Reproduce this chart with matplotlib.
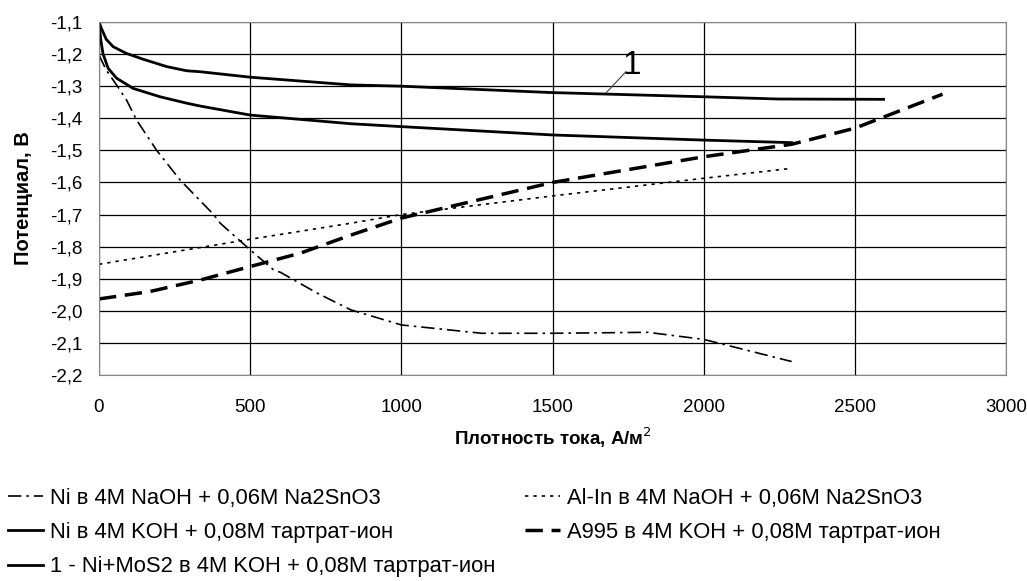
import numpy as np
import matplotlib
matplotlib.use("Agg")
import matplotlib.pyplot as plt

plt.rcParams['font.family'] = ['Liberation Sans', 'DejaVu Sans']

# --- data ---
# 1 - Ni+MoS2 in 4M KOH + 0.08M tartrate (upper solid)
x_mos2 = [0, 8, 24, 47, 91, 146, 224, 290, 335, 500, 833, 1000, 1500, 2000, 2248, 2595]
y_mos2 = [-1.10, -1.12, -1.154, -1.177, -1.198, -1.216, -1.239, -1.252, -1.255, -1.272,
          -1.296, -1.30, -1.32, -1.333, -1.34, -1.341]

# Ni in 4M KOH + 0.08M tartrate (lower solid)
x_ni_koh = [0, 6, 13, 30, 58, 113, 202, 290, 335, 500, 833, 1000, 1500, 2000, 2291]
y_ni_koh = [-1.10, -1.156, -1.198, -1.244, -1.275, -1.307, -1.333, -1.353, -1.362, -1.39,
            -1.417, -1.426, -1.452, -1.468, -1.476]

# A995 in 4M KOH + 0.08M tartrate (heavy dashed)
x_a995 = [0, 168, 335, 500, 667, 833, 1000, 1500, 2000, 2291, 2500, 2790]
y_a995 = [-1.963, -1.94, -1.904, -1.862, -1.82, -1.764, -1.711, -1.60, -1.52, -1.481, -1.431, -1.325]

# Al-In in 4M NaOH + 0.06M Na2SnO3 (dotted)
x_alin = [0, 500, 833, 1000, 1500, 2000, 2291]
y_alin = [-1.855, -1.777, -1.727, -1.70, -1.642, -1.587, -1.556]

# Ni in 4M NaOH + 0.06M Na2SnO3 (dash-dot)
x_ni_naoh = [0, 24, 58, 91, 124, 190, 268, 379, 401, 500, 578, 600, 722, 833, 1000, 1266,
             1500, 1815, 2000, 2291]
y_ni_naoh = [-1.203, -1.25, -1.296, -1.343, -1.405, -1.499, -1.592, -1.70, -1.727, -1.81,
             -1.873, -1.88, -1.945, -1.997, -2.044, -2.07, -2.07, -2.067, -2.089, -2.158]

labels = [
    'Ni в 4M NaOH + 0,06M Na2SnO3',
    'Al-In в 4M NaOH + 0,06M Na2SnO3',
    'Ni в 4M KOH + 0,08M тартрат-ион',
    'A995 в 4M KOH + 0,08M тартрат-ион',
    '1 - Ni+MoS2 в 4M KOH + 0,08M тартрат-ион',
]

x_ticks = [0, 500, 1000, 1500, 2000, 2500, 3000]
y_ticks = [-1.1, -1.2, -1.3, -1.4, -1.5, -1.6, -1.7, -1.8, -1.9, -2.0, -2.1, -2.2]

fig = plt.figure(figsize=(10.27, 5.81), dpi=100)
ax = fig.add_axes([99 / 1027, 1 - 375 / 581, 907 / 1027, 353 / 581])

l_naoh, = ax.plot(x_ni_naoh, y_ni_naoh, color='black', lw=1.2, ls=(0, (8, 3, 1.5, 3)))
l_alin, = ax.plot(x_alin, y_alin, color='black', lw=1.2, ls=(0, (2, 3)))
l_koh, = ax.plot(x_ni_koh, y_ni_koh, color='black', lw=2.0)
l_a995, = ax.plot(x_a995, y_a995, color='black', lw=2.5, ls=(0, (5, 2.5)))
l_mos2, = ax.plot(x_mos2, y_mos2, color='black', lw=2.0)

# label "1" with leader line
ax.plot([1678, 1743], [-1.32, -1.255], color='#444444', lw=0.8)
ax.text(1763, -1.236, '1', fontsize=24, ha='center', va='center')

ax.set_xlim(0, 3000)
ax.set_ylim(-2.2, -1.1)
ax.set_xticks(x_ticks)
ax.set_yticks(y_ticks)
ax.set_yticklabels([f'{v:.1f}'.replace('.', ',') for v in y_ticks])
ax.tick_params(length=0, labelsize=13.5)
ax.tick_params(axis='x', pad=17)
ax.tick_params(axis='y', pad=12)
ax.grid(True, color='black', lw=0.9)
for s in ax.spines.values():
    s.set_color('#888888')

ax.set_xlabel('Плотность тока, А/м$^2$', fontsize=13.5, fontweight='bold', labelpad=7)
ax.set_ylabel('Потенциал, В', fontsize=14.5, fontweight='bold', labelpad=12)

# legend in two blocks, as in the reference layout
leg_kw = dict(loc='upper left', frameon=False, fontsize=15.8, handlelength=1.6,
              handletextpad=0.3, labelspacing=0.6, borderpad=0, borderaxespad=0)
fig.legend([l_naoh, l_koh, l_mos2], [labels[0], labels[2], labels[4]],
           bbox_to_anchor=(8 / 1027, 1 - 488 / 581), **leg_kw)
fig.legend([l_alin, l_a995], [labels[1], labels[3]],
           bbox_to_anchor=(525 / 1027, 1 - 488 / 581), **leg_kw)

fig.savefig('out.png', dpi=100)
